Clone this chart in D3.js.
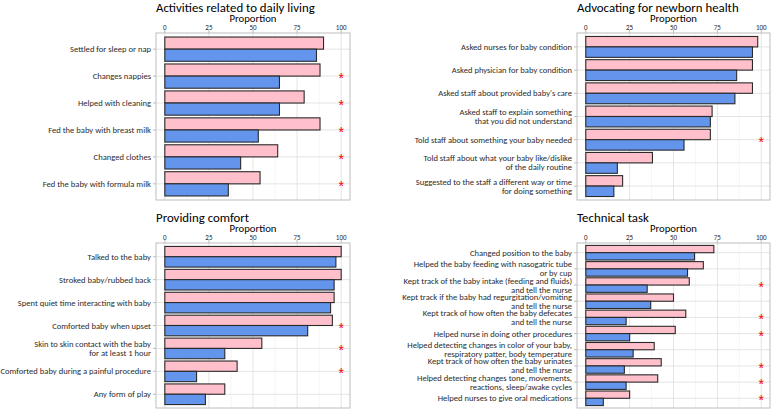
<!DOCTYPE html>
<html><head><meta charset="utf-8">
<script src="https://cdn.jsdelivr.net/npm/d3@7"></script>
<style>
html,body{margin:0;padding:0;background:#fff;}
svg{display:block;}
</style></head>
<body>
<svg id="chart" width="773" height="410"></svg>
<script>
// ---------- DATA ----------
const titles = ["Activities related to daily living", "Advocating for newborn health", "Providing comfort", "Technical task"];

const dailyCategories = ["Settled for sleep or nap", "Changes nappies", "Helped with cleaning", "Fed the baby with breast milk", "Changed clothes", "Fed the baby with formula milk"];
const dailyPink = [90, 88, 79, 88, 64, 54];
const dailyBlue = [86, 65, 65, 53, 43, 36];
const dailySig = [false, true, true, true, true, true];

const advocCategories = ["Asked nurses for baby condition", "Asked physician for baby condition", "Asked staff about provided baby's care", "Asked staff to explain something\nthat you did not understand", "Told staff about something your baby needed", "Told staff about what your baby like/dislike\nof the daily routine", "Suggested to the staff a different way or time\nfor doing something"];
const advocPink = [98, 95, 95, 72, 71, 38, 21];
const advocBlue = [95, 86, 85, 71, 56, 18, 16];
const advocSig = [false, false, false, false, true, false, false];

const comfortCategories = ["Talked to the baby", "Stroked baby/rubbed back", "Spent quiet time interacting with baby", "Comforted baby when upset", "Skin to skin contact with the baby\nfor at least 1 hour", "Comforted baby during a painful procedure", "Any form of play"];
const comfortPink = [100, 100, 96, 95, 55, 41, 34];
const comfortBlue = [97, 96, 94, 81, 34, 18, 23];
const comfortSig = [false, false, false, true, true, true, false];

const techCategories = ["Changed position to the baby", "Helped the baby feeding with nasogatric tube\nor by cup", "Kept track of the baby intake (feeding and fluids)\nand tell the nurse", "Kept track if the baby had regurgitation/vomiting\nand tell the nurse", "Kept track of how often the baby defecates\nand tell the nurse", "Helped nurse in doing other procedures", "Helped detecting changes in color of your baby,\nrespiratory patter, body temperature", "Kept track of how often the baby urinates\nand tell the nurse", "Helped detecting changes tone, movements,\nreactions, sleep/awake cycles", "Helped nurses to give oral medications"];
const techPink = [73, 67, 59, 50, 57, 51, 39, 43, 41, 25];
const techBlue = [62, 58, 35, 37, 23, 25, 27, 22, 23, 10];
const techSig = [false, false, true, false, true, true, false, true, true, true];

const xTicks = [0, 25, 50, 75, 100];
const xMinor = [12.5, 37.5, 62.5, 87.5];
const axisTitle = "Proportion";

// ---------- LAYOUT ----------
const FONT = "Carlito, Calibri, Lato, 'Open Sans', sans-serif";
const svg = d3.select("#chart");

function fitSize(str, targetW) {
  const t = svg.append("text").style("font-family", FONT).style("font-size", "100px").text(str);
  const w = t.node().getComputedTextLength();
  t.remove();
  return 100 * targetW / w;
}
const titleSize = fitSize("Activities related to daily living", 159);
const labelSize = fitSize("Settled for sleep or nap", 81);
const axTitleSize = fitSize("Proportion", 47);
const tickSize = fitSize("100", 10.7);

const panels = [
  {title: titles[0], cats: dailyCategories, pink: dailyPink, blue: dailyBlue, sig: dailySig, box: [156, 350, 33, 200]},
  {title: titles[1], cats: advocCategories, pink: advocPink, blue: advocBlue, sig: advocSig, box: [577, 770, 33, 200]},
  {title: titles[2], cats: comfortCategories, pink: comfortPink, blue: comfortBlue, sig: comfortSig, box: [156, 350, 243, 408]},
  {title: titles[3], cats: techCategories, pink: techPink, blue: techBlue, sig: techSig, box: [577, 770, 243, 408]}
];

panels.forEach(p => {
  const [L, R, T, B] = p.box;
  const g = svg.append("g");
  const x = d3.scaleLinear().domain([-5, 105]).range([L, R]);
  const y = d3.scaleBand().domain(p.cats).range([T, B]).paddingInner(0.1).paddingOuter(0.15);
  const sub = d3.scaleBand().domain(["pink", "blue"]).range([0, y.bandwidth()]);
  const cy = c => y(c) + y.bandwidth() / 2;

  // minor grid
  g.selectAll(".minor").data(xMinor).join("line")
    .attr("x1", d => x(d)).attr("x2", d => x(d)).attr("y1", T).attr("y2", B)
    .attr("stroke", "#f1f1f1").attr("stroke-width", 0.7);
  // major grid
  g.selectAll(".majorx").data(xTicks).join("line")
    .attr("x1", d => x(d)).attr("x2", d => x(d)).attr("y1", T).attr("y2", B)
    .attr("stroke", "#e4e4e4").attr("stroke-width", 1);
  g.selectAll(".majory").data(p.cats).join("line")
    .attr("x1", L).attr("x2", R).attr("y1", d => cy(d)).attr("y2", d => cy(d))
    .attr("stroke", "#e4e4e4").attr("stroke-width", 1);

  // bars
  const rows = p.cats.map((c, i) => ({c, pink: p.pink[i], blue: p.blue[i], sig: p.sig[i]}));
  const series = [["pink", "#FFC0CB"], ["blue", "#6495ED"]];
  series.forEach(([key, col]) => {
    g.selectAll(".bar-" + key).data(rows).join("rect")
      .attr("x", x(0))
      .attr("y", d => y(d.c) + sub(key))
      .attr("width", d => x(d[key]) - x(0))
      .attr("height", sub.bandwidth())
      .attr("fill", col)
      .attr("stroke", "#2a2a2a").attr("stroke-width", 1.1);
  });

  // panel border
  g.append("rect").attr("x", L).attr("y", T).attr("width", R - L).attr("height", B - T)
    .attr("fill", "none").attr("stroke", "#bdbdbd").attr("stroke-width", 1);

  // y ticks
  g.selectAll(".ytick").data(p.cats).join("line")
    .attr("x1", L - 3).attr("x2", L).attr("y1", d => cy(d)).attr("y2", d => cy(d))
    .attr("stroke", "#bdbdbd");
  // x ticks (top)
  g.selectAll(".xtick").data(xTicks).join("line")
    .attr("x1", d => x(d)).attr("x2", d => x(d)).attr("y1", T - 3).attr("y2", T)
    .attr("stroke", "#bdbdbd");

  // y labels
  const lab = g.selectAll(".ylab").data(p.cats).join("text")
    .attr("x", L - 5).attr("text-anchor", "end")
    .style("font-family", FONT).style("font-size", labelSize + "px").attr("fill", "#2b2b2b");
  lab.each(function(d) {
    const lines = d.split("\n");
    const sel = d3.select(this);
    const lh = 9;
    lines.forEach((ln, k) => {
      sel.append("tspan").attr("x", L - 5)
        .attr("y", cy(d) + (k - (lines.length - 1) / 2) * lh)
        .attr("dominant-baseline", "central").text(ln);
    });
  });

  // x tick labels
  g.selectAll(".xlab").data(xTicks).join("text")
    .attr("x", d => x(d)).attr("y", T - 6).attr("text-anchor", "middle")
    .attr("dominant-baseline", "central")
    .style("font-family", FONT).style("font-size", tickSize + "px").attr("fill", "#2b2b2b")
    .text(d => d);

  // axis title
  g.append("text").attr("x", (x(0) + x(100)) / 2).attr("y", T - 15)
    .attr("text-anchor", "middle").attr("dominant-baseline", "central")
    .style("font-family", FONT).style("font-size", axTitleSize + "px").attr("fill", "#000")
    .text(axisTitle);

  // panel title
  g.append("text").attr("x", L).attr("y", T - 21.5)
    .style("font-family", FONT).style("font-size", titleSize + "px").attr("fill", "#000")
    .text(p.title);

  // significance stars
  g.selectAll(".star").data(rows.filter(d => d.sig)).join("text")
    .attr("x", x(100)).attr("y", d => cy(d.c) + 7)
    .attr("text-anchor", "middle")
    .style("font-family", "'Liberation Sans', Arial, sans-serif").style("font-size", "14px")
    .attr("fill", "#ff0000")
    .text("*");
});
</script>
</body></html>
